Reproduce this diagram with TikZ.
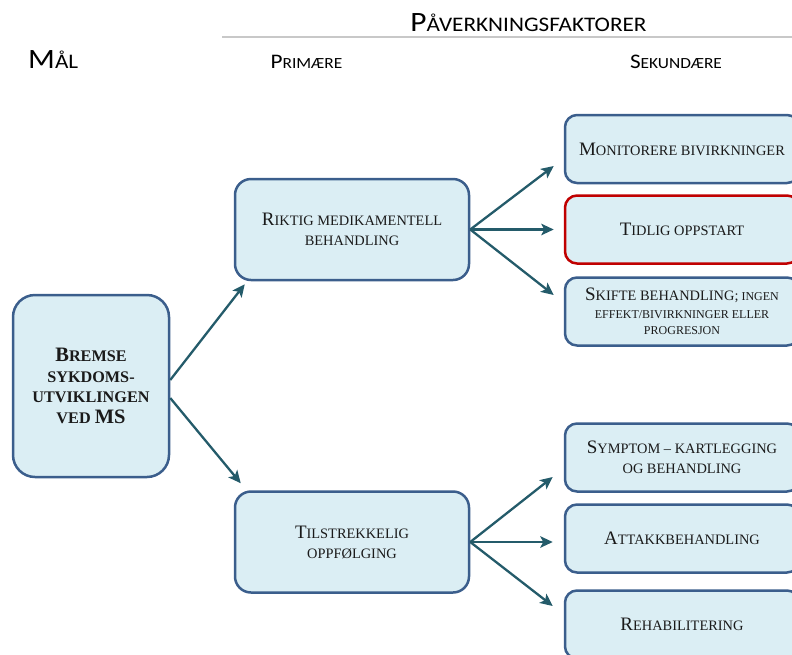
\documentclass[tikz,border=0pt]{standalone}
\usepackage{fontspec}
\setmainfont{Liberation Serif}
\newfontfamily\hdrfont{Carlito}[FakeStretch=1.12]
\usetikzlibrary{arrows.meta,calc}
\definecolor{boxfill}{HTML}{DBEEF4}
\definecolor{boxdraw}{HTML}{3B5E8C}
\definecolor{arrcol}{HTML}{245B6A}
\definecolor{redb}{HTML}{C00000}
\definecolor{hlinecol}{HTML}{C8C8C8}
\definecolor{txt}{HTML}{1A1A1A}
\newcommand\Bg[1]{{\fontsize{19}{20}\selectfont #1}}
\newcommand\BgB[1]{{\fontsize{20.5}{20.5}\selectfont #1}}
\newcommand\HB[1]{{\fontsize{28}{30}\selectfont #1}}
\newcommand\HS[1]{{\fontsize{20.7}{24}\selectfont #1}}
\newcommand\HBs[1]{{\fontsize{20.7}{24}\selectfont #1}}
\newcommand\HSs[1]{{\fontsize{15.5}{20}\selectfont #1}}
\begin{document}
\begin{tikzpicture}[x=1pt,y=-1pt,
  box/.style={draw=boxdraw, line width=2.5pt, fill=boxfill, align=center,
    inner sep=0pt, text=txt, font=\fontsize{14.4}{20}\selectfont},
  goalbox/.style={box, minimum width=156pt, minimum height=182pt, rounded corners=22pt,
    font=\bfseries\fontsize{16.2}{20.5}\selectfont},
  primbox/.style={box, minimum width=234pt, minimum height=101pt, rounded corners=16pt},
  secbox/.style={box, minimum width=234pt, minimum height=68pt, rounded corners=12pt},
  conn/.style={draw=arrcol, line width=2.3pt, -{Stealth[length=12.5pt,width=11.5pt,inset=3pt]}},
  hdr/.style={inner sep=0pt, text=black, font=\hdrfont}
]
\useasboundingbox (0,0) rectangle (792,654);
\clip (0,0) rectangle (792,654);

% headers
\node[hdr, anchor=base] (pf) at (528.5,31.7) {\HB{P}\HS{ÅVERKNINGSFAKTORER}};
\coordinate (hl1) at (222,37);
\coordinate (hl2) at (792,37);
\draw[hlinecol, line width=1.5pt] (hl1) -- (hl2);
\node[hdr, anchor=base west] (mal) at (28,68) {\HB{M}\HS{ÅL}};
\node[hdr, anchor=base] (prim) at (306.5,68) {\HBs{P}\HSs{RIMÆRE}};
\node[hdr, anchor=base] (sek) at (676,68) {\HBs{S}\HSs{EKUNDÆRE}};

% boxes
\node[goalbox] (L) at (91,386) {\BgB{B}REMSE\\SYKDOMS-\\UTVIKLINGEN\\VED \BgB{MS}};
\node[primbox] (P1) at (352,229.5) {\Bg{R}IKTIG MEDIKAMENTELL\\BEHANDLING};
\node[primbox] (P2) at (352,542) {\Bg{T}ILSTREKKELIG\\OPPFØLGING};

\node[secbox] (S1) at (682,149) {\Bg{M}ONITORERE BIVIRKNINGER};
\node[secbox, draw=redb] (S2) at (682,229.5) {\Bg{T}IDLIG OPPSTART};
\node[secbox, font=\fontsize{12}{15.5}\selectfont] (S3) at (682,311.5)
  {{\fontsize{14.4}{15.5}\selectfont\Bg{S}KIFTE BEHANDLING;} INGEN\\[2.5pt]EFFEKT/BIVIRKNINGER ELLER\\PROGRESJON};
\node[secbox] (S4) at (682,457.5) {\Bg{S}YMPTOM -- KARTLEGGING\\OG BEHANDLING};
\node[secbox] (S5) at (682,538.5) {\Bg{A}TTAKKBEHANDLING};
\node[secbox] (S6) at (682,624.5) {\Bg{R}EHABILITERING};

% connectors
\draw[conn] ([yshift=6pt]L.east) -- ([xshift=11pt,yshift=-3pt]P1.south west);
\draw[conn] ([yshift=-12pt]L.east) -- ([xshift=7pt,yshift=7pt]P2.north west);

\draw[conn] (P1.east) -- ([xshift=-10pt,yshift=-17pt]S1.west);
\draw[conn] (P1.east) -- ([xshift=-10pt]S2.west);
\draw[conn] (P1.east) -- ([xshift=-10pt,yshift=16.5pt]S3.west);

\draw[conn] (P2.east) -- ([xshift=-11pt,yshift=-19.5pt]S4.west);
\draw[conn] (P2.east) -- ([xshift=-11pt]S5.west |- P2.east);
\draw[conn] (P2.east) -- ([xshift=-11pt,yshift=18.5pt]S6.west);
\end{tikzpicture}
\end{document}
